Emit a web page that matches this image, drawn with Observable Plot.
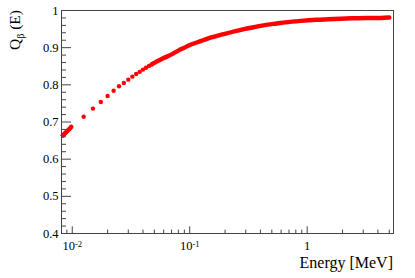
<!DOCTYPE html>
<html><head><meta charset="utf-8">
<script src="https://cdn.jsdelivr.net/npm/d3@7"></script>
<script src="https://cdn.jsdelivr.net/npm/@observablehq/plot@0.6"></script>
<style>body{margin:0;background:#fff} svg{display:block} svg text{font-family:"Liberation Serif",serif}</style>
</head><body><div id="chart"></div>
<script>
// Low-energy dense cluster
const clusterEnergy = [0.0083, 0.0085, 0.0087, 0.0089, 0.0091, 0.0093, 0.0095, 0.0098];
const clusterQ      = [0.664, 0.667, 0.670, 0.673, 0.676, 0.679, 0.682, 0.687];
// Separate points
const dotEnergy = [0.0125, 0.015, 0.0175, 0.02, 0.0225, 0.025, 0.0275, 0.03, 0.0325, 0.035, 0.0375, 0.04, 0.0425, 0.045, 0.0475];
const dotQ      = [0.714, 0.736, 0.754, 0.770, 0.784, 0.796, 0.805, 0.814, 0.822, 0.829, 0.835, 0.841, 0.846, 0.851, 0.855];
// Dense part (points merge into a line)
const curveEnergy = [0.0475, 0.05, 0.055, 0.06, 0.065, 0.07, 0.08, 0.09, 0.1, 0.115, 0.13, 0.15, 0.18, 0.21, 0.24, 0.29, 0.35, 0.46, 0.55, 0.65, 0.88, 1.2, 1.7, 2.4, 3.2, 4.2, 5.0];
const curveQ      = [0.855, 0.859, 0.866, 0.872, 0.877, 0.882, 0.892, 0.900, 0.907, 0.914, 0.920, 0.927, 0.934, 0.939, 0.944, 0.950, 0.955, 0.962, 0.965, 0.968, 0.972, 0.975, 0.977, 0.979, 0.980, 0.980, 0.981];

const xMajorTicks = [0.01, 0.1, 1];
const xTickBase = ["10", "10", "1"];
const xTickExp  = ["-2", "-1", ""];
const xMinorTicks = [0.009, 0.02, 0.03, 0.04, 0.05, 0.06, 0.07, 0.08, 0.09, 0.2, 0.3, 0.4, 0.5, 0.6, 0.7, 0.8, 0.9, 2, 3, 4, 5];
const yMajorTicks = [0.4, 0.5, 0.6, 0.7, 0.8, 0.9, 1];
const yTickLabels = ["0.4", "0.5", "0.6", "0.7", "0.8", "0.9", "1"];
const yMinorTicks = [0.42,0.44,0.46,0.48,0.52,0.54,0.56,0.58,0.62,0.64,0.66,0.68,0.72,0.74,0.76,0.78,0.82,0.84,0.86,0.88,0.92,0.94,0.96,0.98];
const xTitle = "Energy [MeV]";
const yTitleMain = "Q", yTitleSub = "β", yTitleRest = " (E)";

const cluster = clusterEnergy.map((e, i) => ({e, q: clusterQ[i]}));
const dots = dotEnergy.map((e, i) => ({e, q: dotQ[i]}));
const curve = curveEnergy.map((e, i) => ({e, q: curveQ[i]}));

const W = 415, H = 278, mL = 61, mR = 22, mT = 10, mB = 45;
const fw = W - mL - mR, fh = H - mT - mB;
const font = "Liberation Serif";
const axisColor = "#444";
const red = "#ff0000";

const chart = Plot.plot({
  width: W, height: H,
  marginLeft: mL, marginRight: mR, marginTop: mT, marginBottom: mB,
  style: {fontFamily: font, fontSize: "12px", background: "#fff", color: "#000"},
  x: {type: "log", domain: [0.0081, 5.43]},
  y: {domain: [0.4, 1]},
  marks: [
    Plot.line(cluster, {x: "e", y: "q", stroke: red, strokeWidth: 4.4, curve: "monotone-x"}),
    Plot.dot(cluster, {x: "e", y: "q", r: 2.1, fill: red}),
    Plot.dot(dots, {x: "e", y: "q", r: 2.2, fill: red}),
    Plot.line(curve, {x: "e", y: "q", stroke: red, strokeWidth: 4.4, curve: "monotone-x"}),
    Plot.ruleX(xMajorTicks, {x: d => d, insetTop: fh - 6.7, stroke: axisColor}),
    Plot.ruleX(xMinorTicks, {x: d => d, insetTop: fh - 3.4, stroke: axisColor}),
    Plot.ruleY(yMajorTicks, {y: d => d, insetRight: fw - 10, stroke: axisColor}),
    Plot.ruleY(yMinorTicks, {y: d => d, insetRight: fw - 5, stroke: axisColor}),
    Plot.frame({stroke: axisColor}),
    Plot.axisX(xMajorTicks, {tickSize: 0, tickPadding: 8, fontSize: 12.5, label: null,
      tickFormat: d => xTickBase[xMajorTicks.indexOf(d)]}),
    Plot.axisY(yMajorTicks, {tickSize: 0, tickPadding: 3, fontSize: 12.5, label: null,
      tickFormat: d => yTickLabels[yMajorTicks.indexOf(d)]})
  ]
});
document.getElementById("chart").appendChild(chart);

const svg = d3.select(chart);
svg.selectAll('g[aria-label="x-axis tick label"] text').each(function(d, i) {
  const t = d3.select(this);
  if (xTickExp[i]) {
    t.append("tspan").attr("dy", "-0.45em").attr("font-size", 8.5).text(xTickExp[i]);
  }
});

svg.append("text")
  .attr("x", W - mR).attr("y", 268)
  .attr("text-anchor", "end")
  .attr("font-family", font).attr("font-size", 16)
  .text(xTitle);

const yt = svg.append("text")
  .attr("transform", `translate(20,${mT}) rotate(-90)`)
  .attr("text-anchor", "end")
  .attr("font-family", font).attr("font-size", 15.5);
yt.append("tspan").text(yTitleMain);
yt.append("tspan").attr("dy", 4).attr("font-size", 10).text(yTitleSub);
yt.append("tspan").attr("dy", -4).text(yTitleRest);
</script>
</body></html>
